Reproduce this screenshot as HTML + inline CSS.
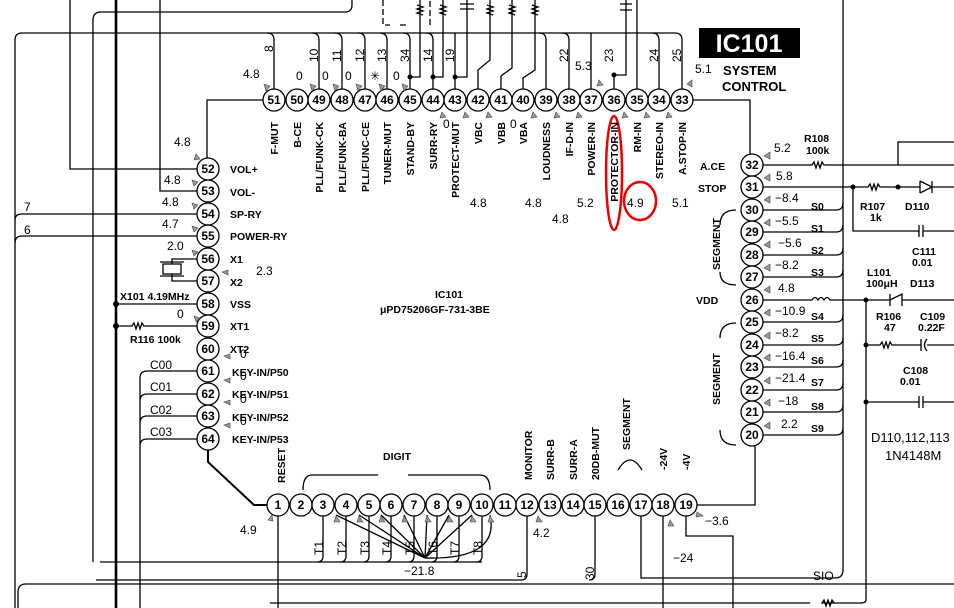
<!DOCTYPE html>
<html><head><meta charset="utf-8"><style>
html,body{margin:0;padding:0;background:#fff;}
svg{display:block;font-family:"Liberation Sans",sans-serif;}
.w{fill:none;stroke:#000;stroke-width:1.3}
.t{stroke:#000;stroke-width:2.6;fill:none}
.p{fill:#fff;stroke:#000;stroke-width:1.3}
.n{font-size:12px;font-weight:bold;text-anchor:middle}
.l{font-size:10.5px;font-weight:bold}
.v{font-size:12px}
.a{fill:#999;stroke:#444;stroke-width:.6}
</style></head><body>
<svg width="954" height="608" viewBox="0 0 954 608" xmlns="http://www.w3.org/2000/svg">
<path class="w" d="M15 608 V40 Q15 33 22 33 H675 Q682 33 682 40 V89"/>
<path class="w" d="M93 562 V20 Q93 12 101 12 H345 Q352 12 352 5 V0"/>
<path class="w" d="M70 0 V169 H197"/>
<path class="w" d="M160 0 V191 H197"/>
<path class="t" d="M116 0 V608"/>
<path class="w" d="M116 304 H197"/>
<path class="w" d="M116 326 H132 l2 -3 l2 6 l2 -6 l2 6 l2 -6 l2 3 H197"/>
<circle cx="116" cy="304" r="3"/><circle cx="116" cy="326" r="3"/>
<path class="w" d="M15 220 Q15 214 22 214 H197"/>
<path class="w" d="M15 243 Q15 236 22 236 H197"/>
<path class="w" d="M18 608 V592 Q18 584 26 584 H954"/>
<path class="w" d="M263 100 H207 V158"/>
<path class="w" d="M197 259 H172 V264 M172 274 V281 H197"/>
<rect x="163" y="264" width="18" height="10" fill="#fff" stroke="#000" stroke-width="1.3"/>
<path class="w" d="M160 262 H184 M160 276 H184"/>
<path class="w" d="M140 608 V378 Q140 371 147 371 H197 M140 401 Q140 394 147 394 H197 M140 423 Q140 416 147 416 H197 M140 446 Q140 439 147 439 H197"/>
<path class="t" style="stroke-width:2" d="M208 450 V462 L254 505 H267"/>
<path class="w" d="M278 516 V608"/>
<path class="w" d="M274 89 V40 Q274 33 267 33"/>
<path class="w" d="M319 89 V40 Q319 33 312 33 M342 89 V40 Q342 33 335 33 M365 89 V40 Q365 33 358 33 M387 89 V40 Q387 33 380 33"/>
<path class="w" d="M410 89 V40 Q410 33 403 33 M433 89 V40 Q433 33 426 33 M455 89 V33"/>
<path class="w" d="M410 77 H420 V0 M433 77 H443 V0 M455 77 H467 V0"/>
<circle cx="410" cy="77" r="2.5"/><circle cx="433" cy="77" r="2.5"/><circle cx="455" cy="77" r="2.5"/>
<path class="w" d="M478 89 V70 L490 60 V0 M501 89 V76 L512 68 V0 M523 89 V78 L535 70 V0"/>
<path class="w" d="M546 89 V40 Q546 33 539 33 M569 89 V40 Q569 33 562 33 M591 89 V33 M614 89 V75 H626 V0 M637 89 V0 M659 89 V40 Q659 33 652 33 "/>
<circle cx="614" cy="75" r="2.5"/>
<path class="w" d="M417 5 l6 2 l-6 2 l6 2 l-6 2 l6 2 M440 5 l6 2 l-6 2 l6 2 l-6 2 l6 2 M487 5 l6 2 l-6 2 l6 2 l-6 2 l6 2 M509 5 l6 2 l-6 2 l6 2 l-6 2 l6 2 M532 5 l6 2 l-6 2 l6 2 l-6 2 l6 2"/>
<path class="w" d="M460 4 H474 M460 9 H474 M620 4 H632 M620 10 H632"/>
<path class="w" d="M383 0 V25 H390 M400 25 H407 M430 25 V0" stroke-dasharray="6 3"/>
<path class="w" d="M693 100 H750 V154"/>
<path class="w" d="M763 165 H812 l2 -3 l2 6 l2 -6 l2 6 l2 -6 l2 3 H954 M898 165 V142 H954"/>
<path class="w" d="M763 187 H868 l2 -3 l2 6 l2 -6 l2 6 l2 -6 l2 3 H920 M920 181 V193 M920 181 L932 187 L920 193 M932 181 V193 M932 187 H954"/>
<circle cx="853" cy="187" r="2.5"/><circle cx="898" cy="187" r="2.5"/>
<path class="w" d="M853 187 V231 H919 M919 225 V237 M923 225 V237 M923 231 H954"/>
<path class="w" d="M843 0 V570 Q843 578 835 578 H641 V516"/>
<path class="w" d="M763 210 H836 Q843 210 843 203 M763 232 H836 Q843 232 843 225 M763 255 H836 Q843 255 843 248 M763 277 H836 Q843 277 843 270 M763 322 H836 Q843 322 843 315 M763 345 H836 Q843 345 843 338 M763 367 H836 Q843 367 843 360 M763 390 H836 Q843 390 843 383 M763 412 H836 Q843 412 843 405 M763 435 H836 Q843 435 843 428"/>
<path class="w" d="M763 300 H812 q3 -5 6 0 q3 -5 6 0 q3 -5 6 0 H890 M890 294 V306 M890 300 L902 294 V306 M902 300 H954"/>
<circle cx="866" cy="300" r="2.5"/>
<path class="w" d="M866 300 V600 Q866 603 860 603 H822 l2 -3 l2 6 l2 -6 l2 6 l2 -6 l2 3 M810 603 H270"/>
<path class="w" d="M866 345 H880 l2 -3 l2 6 l2 -6 l2 6 l2 -6 l2 3 H921 M921 339 V351 M927 339 Q922 345 927 351 M927 345 H954"/>
<circle cx="866" cy="345" r="2.5"/><circle cx="866" cy="402" r="2.5"/>
<path class="w" d="M866 402 H919 M919 396 V408 M923 396 V408 M923 402 H954"/>
<path class="w" d="M697 505 H755 V446"/>
<path class="w" d="M686 516 V536 H733 V608 M663 516 V608 M527 516 V574 Q527 580 521 580 H96 M595 516 V574 Q595 580 589 580"/>
<path class="w" d="M323 516 V556 Q323 562 317 562 M346 516 V556 Q346 562 340 562 M369 516 V556 Q369 562 363 562 M391 516 V556 Q391 562 385 562 M414 516 V556 Q414 562 408 562 M437 516 V556 Q437 562 431 562 M459 516 V556 Q459 562 453 562 M482 516 V556 Q482 562 476 562 M100 562 H482"/>
<path class="w" d="M425 558 L336 515 M425 558 L359 515 M425 558 L381 515 M425 558 L404 515 M425 558 L427 515 M425 558 L449 515 M425 558 L472 515 M425 558 Q500 560 490 515"/>
<path class="w" d="M303 490 Q303 475 312 475 H378 M408 475 H480 Q490 475 490 490"/>
<path class="w" d="M618 470 Q630 450 642 470"/>
<path class="w" d="M736 210 Q720 210 720 225 M720 272 Q720 285 736 285 M736 323 Q720 323 720 338 M720 430 Q720 445 736 445"/>
<ellipse cx="614" cy="173" rx="8" ry="57" fill="none" stroke="#e00" stroke-width="2.5"/>
<ellipse cx="640" cy="201" rx="16" ry="19" fill="none" stroke="#e00" stroke-width="2.5"/>
<g class="p">
<circle cx="274" cy="100" r="11"/><circle cx="297" cy="100" r="11"/><circle cx="319" cy="100" r="11"/><circle cx="342" cy="100" r="11"/><circle cx="365" cy="100" r="11"/><circle cx="387" cy="100" r="11"/><circle cx="410" cy="100" r="11"/><circle cx="433" cy="100" r="11"/><circle cx="455" cy="100" r="11"/><circle cx="478" cy="100" r="11"/><circle cx="501" cy="100" r="11"/><circle cx="523" cy="100" r="11"/><circle cx="546" cy="100" r="11"/><circle cx="569" cy="100" r="11"/><circle cx="591" cy="100" r="11"/><circle cx="614" cy="100" r="11"/><circle cx="637" cy="100" r="11"/><circle cx="659" cy="100" r="11"/><circle cx="682" cy="100" r="11"/>
<circle cx="208" cy="169" r="11"/><circle cx="208" cy="191" r="11"/><circle cx="208" cy="214" r="11"/><circle cx="208" cy="236" r="11"/><circle cx="208" cy="259" r="11"/><circle cx="208" cy="281" r="11"/><circle cx="208" cy="304" r="11"/><circle cx="208" cy="326" r="11"/><circle cx="208" cy="349" r="11"/><circle cx="208" cy="371" r="11"/><circle cx="208" cy="394" r="11"/><circle cx="208" cy="416" r="11"/><circle cx="208" cy="439" r="11"/>
<circle cx="752" cy="165" r="11"/><circle cx="752" cy="187" r="11"/><circle cx="752" cy="210" r="11"/><circle cx="752" cy="232" r="11"/><circle cx="752" cy="255" r="11"/><circle cx="752" cy="277" r="11"/><circle cx="752" cy="300" r="11"/><circle cx="752" cy="322" r="11"/><circle cx="752" cy="345" r="11"/><circle cx="752" cy="367" r="11"/><circle cx="752" cy="390" r="11"/><circle cx="752" cy="412" r="11"/><circle cx="752" cy="435" r="11"/>
<circle cx="278" cy="505" r="11"/><circle cx="301" cy="505" r="11"/><circle cx="323" cy="505" r="11"/><circle cx="346" cy="505" r="11"/><circle cx="369" cy="505" r="11"/><circle cx="391" cy="505" r="11"/><circle cx="414" cy="505" r="11"/><circle cx="437" cy="505" r="11"/><circle cx="459" cy="505" r="11"/><circle cx="482" cy="505" r="11"/><circle cx="505" cy="505" r="11"/><circle cx="527" cy="505" r="11"/><circle cx="550" cy="505" r="11"/><circle cx="573" cy="505" r="11"/><circle cx="595" cy="505" r="11"/><circle cx="618" cy="505" r="11"/><circle cx="641" cy="505" r="11"/><circle cx="663" cy="505" r="11"/><circle cx="686" cy="505" r="11"/>
</g>
<g class="n">
<text x="274" y="104">51</text><text x="297" y="104">50</text><text x="319" y="104">49</text><text x="342" y="104">48</text><text x="365" y="104">47</text><text x="387" y="104">46</text><text x="410" y="104">45</text><text x="433" y="104">44</text><text x="455" y="104">43</text><text x="478" y="104">42</text><text x="501" y="104">41</text><text x="523" y="104">40</text><text x="546" y="104">39</text><text x="569" y="104">38</text><text x="591" y="104">37</text><text x="614" y="104">36</text><text x="637" y="104">35</text><text x="659" y="104">34</text><text x="682" y="104">33</text>
<text x="208" y="173">52</text><text x="208" y="195">53</text><text x="208" y="218">54</text><text x="208" y="240">55</text><text x="208" y="263">56</text><text x="208" y="285">57</text><text x="208" y="308">58</text><text x="208" y="330">59</text><text x="208" y="353">60</text><text x="208" y="375">61</text><text x="208" y="398">62</text><text x="208" y="420">63</text><text x="208" y="443">64</text>
<text x="752" y="169">32</text><text x="752" y="191">31</text><text x="752" y="214">30</text><text x="752" y="236">29</text><text x="752" y="259">28</text><text x="752" y="281">27</text><text x="752" y="304">26</text><text x="752" y="326">25</text><text x="752" y="349">24</text><text x="752" y="371">23</text><text x="752" y="394">22</text><text x="752" y="416">21</text><text x="752" y="439">20</text>
<text x="278" y="509">1</text><text x="301" y="509">2</text><text x="323" y="509">3</text><text x="346" y="509">4</text><text x="369" y="509">5</text><text x="391" y="509">6</text><text x="414" y="509">7</text><text x="437" y="509">8</text><text x="459" y="509">9</text><text x="482" y="509">10</text><text x="505" y="509">11</text><text x="527" y="509">12</text><text x="550" y="509">13</text><text x="573" y="509">14</text><text x="595" y="509">15</text><text x="618" y="509">16</text><text x="641" y="509">17</text><text x="663" y="509">18</text><text x="686" y="509">19</text>
</g>
<g class="l" text-anchor="end">
<text transform="translate(278,122) rotate(-90)">F-MUT</text>
<text transform="translate(301,122) rotate(-90)">B-CE</text>
<text transform="translate(323,122) rotate(-90)">PLL/FUNK-CK</text>
<text transform="translate(346,122) rotate(-90)">PLL/FUNK-BA</text>
<text transform="translate(369,122) rotate(-90)">PLL/FUNC-CE</text>
<text transform="translate(391,122) rotate(-90)">TUNER-MUT</text>
<text transform="translate(414,122) rotate(-90)">STAND-BY</text>
<text transform="translate(437,122) rotate(-90)">SURR-RY</text>
<text transform="translate(459,122) rotate(-90)">PROTECT-MUT</text>
<text transform="translate(482,122) rotate(-90)">VBC</text>
<text transform="translate(505,122) rotate(-90)">VBB</text>
<text transform="translate(527,122) rotate(-90)">VBA</text>
<text transform="translate(550,122) rotate(-90)">LOUDNESS</text>
<text transform="translate(573,122) rotate(-90)">IF-D-IN</text>
<text transform="translate(595,122) rotate(-90)">POWER-IN</text>
<text transform="translate(618,122) rotate(-90)">PROTECTOR-IN</text>
<text transform="translate(641,122) rotate(-90)">RM-IN</text>
<text transform="translate(663,122) rotate(-90)">STEREO-IN</text>
<text transform="translate(686,122) rotate(-90)">A.STOP-IN</text>
</g>
<g class="v" text-anchor="start">
<text transform="translate(273,52) rotate(-90)">8</text>
<text transform="translate(318,62) rotate(-90)">10</text>
<text transform="translate(341,62) rotate(-90)">11</text>
<text transform="translate(364,62) rotate(-90)">12</text>
<text transform="translate(386,62) rotate(-90)">13</text>
<text transform="translate(409,62) rotate(-90)">34</text>
<text transform="translate(432,62) rotate(-90)">14</text>
<text transform="translate(454,62) rotate(-90)">19</text>
<text transform="translate(568,62) rotate(-90)">22</text>
<text transform="translate(613,62) rotate(-90)">23</text>
<text transform="translate(658,62) rotate(-90)">24</text>
<text transform="translate(681,62) rotate(-90)">25</text>
</g>
<g class="v">
<text x="243" y="78">4.8</text><text x="296" y="80">0</text><text x="322" y="80">0</text><text x="345" y="80">0</text><text x="370" y="80">✳</text><text x="393" y="80">0</text>
<text x="443" y="128">0</text><text x="510" y="128">0</text>
<text x="575" y="70">5.3</text><text x="695" y="73">5.1</text>
<text x="174" y="146">4.8</text><text x="164" y="184">4.8</text><text x="162" y="206">4.8</text><text x="162" y="228">4.7</text><text x="167" y="250">2.0</text><text x="256" y="275">2.3</text>
<text x="177" y="318">0</text>
<text x="470" y="207">4.8</text><text x="525" y="207">4.8</text><text x="552" y="223">4.8</text><text x="577" y="207">5.2</text><text x="627" y="207">4.9</text><text x="672" y="207">5.1</text>
<text x="774" y="152">5.2</text><text x="776" y="180">5.8</text><text x="775" y="202">−8.4</text><text x="775" y="225">−5.5</text><text x="778" y="247">−5.6</text><text x="775" y="269">−8.2</text><text x="778" y="292">4.8</text>
<text x="775" y="315">−10.9</text><text x="775" y="337">−8.2</text><text x="775" y="360">−16.4</text><text x="775" y="382">−21.4</text><text x="778" y="405">−18</text><text x="781" y="428">2.2</text>
<text x="240" y="534">4.9</text><text x="533" y="537">4.2</text><text x="705" y="525">−3.6</text><text x="673" y="562">−24</text><text x="404" y="575">−21.8</text>
<text x="24" y="211">7</text><text x="24" y="234">6</text>
<text x="150" y="369">C00</text><text x="150" y="391">C01</text><text x="150" y="414">C02</text><text x="150" y="436">C03</text>
<text x="240" y="358">0</text><text x="240" y="380">0</text><text x="240" y="403">0</text><text x="240" y="425">0</text>
<text x="813" y="580">SIO</text>
<text x="871" y="442" style="font-size:13px">D110,112,113</text><text x="885" y="460" style="font-size:13px">1N4148M</text>
</g>
<g class="l">
<text x="230" y="173">VOL+</text><text x="230" y="196">VOL-</text><text x="230" y="218">SP-RY</text><text x="230" y="240">POWER-RY</text>
<text x="230" y="263">X1</text><text x="230" y="286">X2</text><text x="230" y="308">VSS</text><text x="230" y="330">XT1</text><text x="230" y="353">XT2</text>
<text x="232" y="376">KEY-IN/P50</text><text x="232" y="398">KEY-IN/P51</text><text x="232" y="421">KEY-IN/P52</text><text x="232" y="443">KEY-IN/P53</text>
<text x="120" y="300">X101 4.19MHz</text><text x="130" y="343">R116 100k</text>
<text x="700" y="170">A.CE</text><text x="698" y="192">STOP</text><text x="696" y="304">VDD</text>
<text x="811" y="210">S0</text><text x="811" y="232">S1</text><text x="811" y="254">S2</text><text x="811" y="276">S3</text><text x="811" y="320">S4</text><text x="811" y="342">S5</text><text x="811" y="364">S6</text><text x="811" y="386">S7</text><text x="811" y="410">S8</text><text x="811" y="432">S9</text>
<text x="804" y="142">R108</text><text x="806" y="154">100k</text>
<text x="860" y="210">R107</text><text x="870" y="221">1k</text><text x="905" y="210">D110</text>
<text x="912" y="255">C111</text><text x="912" y="266">0.01</text>
<text x="867" y="276">L101</text><text x="866" y="287">100μH</text><text x="910" y="287">D113</text>
<text x="876" y="320">R106</text><text x="884" y="331">47</text><text x="920" y="320">C109</text><text x="918" y="331">0.22F</text>
<text x="903" y="374">C108</text><text x="900" y="385">0.01</text>
<text x="435" y="298">IC101</text><text x="380" y="313">μPD75206GF-731-3BE</text>
<text x="383" y="460">DIGIT</text>
<text x="723" y="75" style="font-size:13px">SYSTEM</text><text x="722" y="91" style="font-size:13px">CONTROL</text>
</g>
<g class="l" text-anchor="start">
<text transform="translate(285,483) rotate(-90)">RESET</text>
<text transform="translate(532,480) rotate(-90)">MONITOR</text>
<text transform="translate(554,480) rotate(-90)">SURR-B</text>
<text transform="translate(577,480) rotate(-90)">SURR-A</text>
<text transform="translate(599,480) rotate(-90)">20DB-MUT</text>
<text transform="translate(630,450) rotate(-90)">SEGMENT</text>
<text transform="translate(667,470) rotate(-90)">-24V</text>
<text transform="translate(690,470) rotate(-90)">-4V</text>
<text transform="translate(720,270) rotate(-90)">SEGMENT</text>
<text transform="translate(720,405) rotate(-90)">SEGMENT</text>
</g>
<g class="v" text-anchor="start">
<text transform="translate(323,555) rotate(-90)">T1</text><text transform="translate(346,555) rotate(-90)">T2</text><text transform="translate(369,555) rotate(-90)">T3</text><text transform="translate(391,555) rotate(-90)">T4</text><text transform="translate(414,555) rotate(-90)">T5</text><text transform="translate(437,555) rotate(-90)">T6</text><text transform="translate(459,555) rotate(-90)">T7</text><text transform="translate(482,555) rotate(-90)">T8</text>
<text transform="translate(526,578) rotate(-90)">5</text><text transform="translate(594,580) rotate(-90)">30</text>
</g>
<rect x="699" y="28" width="101" height="30" fill="#000"/>
<text x="749" y="52" text-anchor="middle" fill="#fff" style="font-size:25px;font-weight:bold">IC101</text>
<g class="a">
<path d="M264 84 l6 2 l-4 5z M310 84 l6 2 l-4 5z M333 84 l6 2 l-4 5z M356 84 l6 2 l-4 5z M379 84 l6 2 l-4 5z M402 84 l6 2 l-4 5z M442 112 l4 5 l-6 1z M465 112 l4 5 l-6 1z M488 112 l4 5 l-6 1z M533 112 l4 5 l-6 1z M556 112 l4 5 l-6 1z M578 112 l4 5 l-6 1z M599 80 l4 5 l-6 1z M624 112 l4 5 l-6 1z M646 112 l4 5 l-6 1z M668 112 l4 5 l-6 1z M692 80 l-5 4 l5 3z M196 154 l4 5 l-6 1z M192 180 l6 2 l-4 4z M192 203 l6 2 l-4 4z M192 226 l6 2 l-4 4z M192 250 l6 2 l-4 4z M222 272 l6 -2 l0 5z M194 316 l6 2 l-4 4z M224 356 l6 -2 l0 5z M224 380 l6 -2 l0 5z M224 402 l6 -2 l0 5z M224 425 l6 -2 l0 5z M268 520 l4 -5 l1 6z M764 156 l6 -4 l0 7z M764 178 l6 -4 l0 7z M764 200 l6 -4 l0 7z M764 223 l6 -4 l0 7z M764 245 l6 -4 l0 7z M764 268 l6 -4 l0 7z M764 290 l6 -4 l0 7z M764 313 l6 -4 l0 7z M764 336 l6 -4 l0 7z M764 358 l6 -4 l0 7z M764 381 l6 -4 l0 7z M764 403 l6 -4 l0 7z M764 426 l6 -4 l0 7z M697 512 l6 4 l-7 1z M670 520 l4 6 l-6 0z M538 516 l4 6 l-6 0z M336 516 l4 6 l-6 0z M359 516 l4 6 l-6 0z M381 516 l4 6 l-6 0z M404 516 l4 6 l-6 0z M427 516 l4 6 l-6 0z M449 516 l4 6 l-6 0z M472 516 l4 6 l-6 0z M490 516 l4 6 l-6 0z"/>
</g>
</svg>
</body></html>
